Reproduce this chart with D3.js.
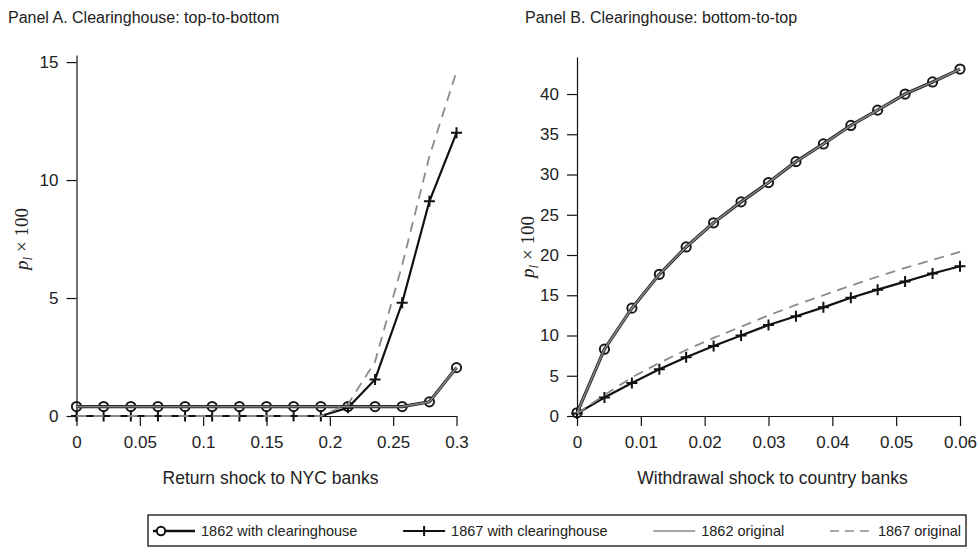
<!DOCTYPE html>
<html><head><meta charset="utf-8">
<script src="https://cdn.jsdelivr.net/npm/d3@7"></script>
<style>
body{margin:0;background:#fff;}
svg text{font-family:"Liberation Sans",Arial,Helvetica,sans-serif;fill:#222;}
</style></head><body>
<svg id="chart" width="979" height="547"></svg>
<script>
// ---------- data ----------
const seriesNames = ["1862 with clearinghouse", "1867 with clearinghouse", "1862 original", "1867 original"];

const xA = [0, 0.0214, 0.0429, 0.0643, 0.0857, 0.1071, 0.1286, 0.15, 0.1714, 0.1929, 0.2143, 0.2357, 0.2571, 0.2786, 0.3];
const a1862CH   = [0.4, 0.4, 0.4, 0.4, 0.4, 0.4, 0.4, 0.4, 0.4, 0.4, 0.4, 0.4, 0.4, 0.6, 2.05];
const a1867CH   = [0, 0, 0, 0, 0, 0, 0, 0, 0, 0, 0.35, 1.55, 4.8, 9.1, 12.0];
const a1862Orig = [0.4, 0.4, 0.4, 0.4, 0.4, 0.4, 0.4, 0.4, 0.4, 0.4, 0.4, 0.4, 0.4, 0.6, 2.05];
const a1867Orig = [0, 0, 0, 0, 0, 0, 0, 0, 0, 0, 0.5, 2.3, 6.4, 11.0, 14.6];

const xB = [0, 0.0043, 0.0086, 0.0129, 0.0171, 0.0214, 0.0257, 0.03, 0.0343, 0.0386, 0.0429, 0.0471, 0.0514, 0.0557, 0.06];
const b1862CH   = [0.4, 8.3, 13.4, 17.6, 21.0, 24.0, 26.6, 29.0, 31.6, 33.8, 36.1, 38.0, 40.0, 41.5, 43.1];
const b1867CH   = [0.3, 2.3, 4.1, 5.8, 7.3, 8.7, 10.0, 11.3, 12.4, 13.5, 14.7, 15.7, 16.7, 17.7, 18.6];
const b1862Orig = [0.4, 8.3, 13.4, 17.6, 21.0, 24.0, 26.6, 29.0, 31.6, 33.8, 36.1, 38.0, 40.0, 41.5, 43.1];
const b1867Orig = [0.3, 2.6, 4.8, 6.6, 8.2, 9.7, 11.1, 12.5, 13.8, 15.0, 16.2, 17.3, 18.4, 19.4, 20.4];

const xTicksA = [0, 0.05, 0.1, 0.15, 0.2, 0.25, 0.3];
const xTickLabelsA = ["0", "0.05", "0.1", "0.15", "0.2", "0.25", "0.3"];
const yTicksA = [0, 5, 10, 15];
const xTicksB = [0, 0.01, 0.02, 0.03, 0.04, 0.05, 0.06];
const xTickLabelsB = ["0", "0.01", "0.02", "0.03", "0.04", "0.05", "0.06"];
const yTicksB = [0, 5, 10, 15, 20, 25, 30, 35, 40];

const titles = ["Panel A. Clearinghouse: top-to-bottom", "Panel B. Clearinghouse: bottom-to-top"];
const xTitles = ["Return shock to NYC banks", "Withdrawal shock to country banks"];

// ---------- drawing ----------
const svg = d3.select("#chart");
const FS_TICK = 17, FS_TITLE = 16, FS_XT = 17.5, FS_LEG = 14.5;

const panels = [
  {x: xA, s: [a1862CH, a1867CH, a1862Orig, a1867Orig], xd: [0, 0.3], xr: [76.5, 456.5], yd: [0, 15.3], yr: [416, 55],
   xt: xTicksA, xl: xTickLabelsA, yt: yTicksA, title: titles[0], tx: 8, xtitle: xTitles[0], ylx: 28, yly: 239, ypad: 8},
  {x: xB, s: [b1862CH, b1867CH, b1862Orig, b1867Orig], xd: [0, 0.06], xr: [577, 960], yd: [0, 44.6], yr: [416, 57],
   xt: xTicksB, xl: xTickLabelsB, yt: yTicksB, title: titles[1], tx: 525, xtitle: xTitles[1], ylx: 534, yly: 247, ypad: 8}
];

panels.forEach(p => {
  const x = d3.scaleLinear().domain(p.xd).range(p.xr);
  const y = d3.scaleLinear().domain(p.yd).range(p.yr);
  const g = svg.append("g");

  // title
  g.append("text").attr("x", p.tx).attr("y", 23).attr("font-size", FS_TITLE).text(p.title);

  // axes
  const ax = g.append("g").attr("transform", `translate(0,${p.yr[0]})`)
    .call(d3.axisBottom(x).tickValues(p.xt).tickFormat((d, i) => p.xl[i]).tickSize(10).tickSizeOuter(0).tickPadding(10));
  const ay = g.append("g").attr("transform", `translate(${p.xr[0]},0)`)
    .call(d3.axisLeft(y).tickValues(p.yt).tickFormat(d3.format("d")).tickSize(10).tickSizeOuter(0).tickPadding(p.ypad));
  [ax, ay].forEach(a => {
    a.selectAll("text").attr("font-size", FS_TICK).attr("font-family", '"Liberation Sans",Arial,sans-serif').attr("fill", "#222");
    a.selectAll("path,line").attr("stroke", "#111").attr("stroke-width", 1.2);
  });

  // x title
  g.append("text").attr("x", (p.xr[0] + p.xr[1]) / 2 + 4).attr("y", 484).attr("text-anchor", "middle")
    .attr("font-size", FS_XT).text(p.xtitle);

  // y title  p_l × 100
  const yt = g.append("text").attr("transform", `translate(${p.ylx},${p.yly}) rotate(-90)`)
    .attr("text-anchor", "middle").attr("font-size", 19)
    .style("font-family", '"Liberation Serif","Times New Roman",serif');
  yt.append("tspan").attr("font-style", "italic").text("p");
  yt.append("tspan").attr("font-style", "italic").attr("font-size", 13).attr("dy", 4).text("l");
  yt.append("tspan").attr("dy", -4).text(" \u00d7 100");

  const pts = arr => arr.map((v, i) => [x(p.x[i]), y(v)]);
  const line = d3.line();

  // 1862 with clearinghouse (black line + circles)
  g.append("path").attr("d", line(pts(p.s[0]))).attr("fill", "none").attr("stroke", "#111").attr("stroke-width", 3.2);
  g.selectAll(".circ").data(pts(p.s[0])).enter().append("circle")
    .attr("cx", d => d[0]).attr("cy", d => d[1]).attr("r", 4.6)
    .attr("fill", "none").attr("stroke", "#1a1a1a").attr("stroke-width", 2);
  // 1867 with clearinghouse (black line + plus)
  g.append("path").attr("d", line(pts(p.s[1]))).attr("fill", "none").attr("stroke", "#111").attr("stroke-width", 2.2);
  g.selectAll(".plus").data(pts(p.s[1])).enter().append("path")
    .attr("d", d => `M${d[0]-5.5},${d[1]}H${d[0]+5.5}M${d[0]},${d[1]-5.5}V${d[1]+5.5}`)
    .attr("stroke", "#111").attr("stroke-width", 2);
  // 1862 original (gray solid)
  g.append("path").attr("d", line(pts(p.s[2]))).attr("fill", "none").attr("stroke", "#808080").attr("stroke-width", 1.8);
  // 1867 original (gray dashed)
  g.append("path").attr("d", line(pts(p.s[3]))).attr("fill", "none").attr("stroke", "#8a8a8a").attr("stroke-width", 1.8)
    .attr("stroke-dasharray", "10,7");
});

// ---------- legend ----------
const leg = svg.append("g");
const legY = 531, segLen = 42, gapT = 6, pad = 5;
const boxLeft = 148, boxRight = 966;
const items = seriesNames.map(name => {
  const t = leg.append("text").attr("font-size", FS_LEG).attr("y", legY + 5).text(name);
  return {t, w: t.node().getComputedTextLength()};
});
const content = items.reduce((s, o) => s + segLen + gapT + o.w, 0);
const between = ((boxRight - boxLeft) - 2 * pad - content) / (items.length - 1);
leg.insert("rect", ":first-child").attr("x", boxLeft).attr("y", 515).attr("width", boxRight - boxLeft).attr("height", 31)
  .attr("fill", "none").attr("stroke", "#111").attr("stroke-width", 1.3);
let xcur = boxLeft + pad;
items.forEach((o, i) => {
  const s0 = xcur, s1 = xcur + segLen, m = (s0 + s1) / 2;
  const st = [
    {c: "#111", w: 2.4, d: null}, {c: "#111", w: 2.2, d: null}, {c: "#8a8a8a", w: 1.4, d: null}, {c: "#8a8a8a", w: 1.4, d: "9,6"}
  ][i];
  leg.append("line").attr("x1", s0).attr("x2", s1).attr("y1", legY).attr("y2", legY)
    .attr("stroke", st.c).attr("stroke-width", st.w).attr("stroke-dasharray", st.d);
  if (i === 0) leg.append("circle").attr("cx", s0 + 8).attr("cy", legY).attr("r", 4.2).attr("fill", "#fff").attr("stroke", "#111").attr("stroke-width", 2);
  if (i === 1) leg.append("path").attr("d", `M${m-5},${legY}H${m+5}M${m},${legY-5}V${legY+5}`).attr("stroke", "#111").attr("stroke-width", 2);
  o.t.attr("x", s1 + gapT);
  xcur = s1 + gapT + o.w + between;
});
</script>
</body></html>
